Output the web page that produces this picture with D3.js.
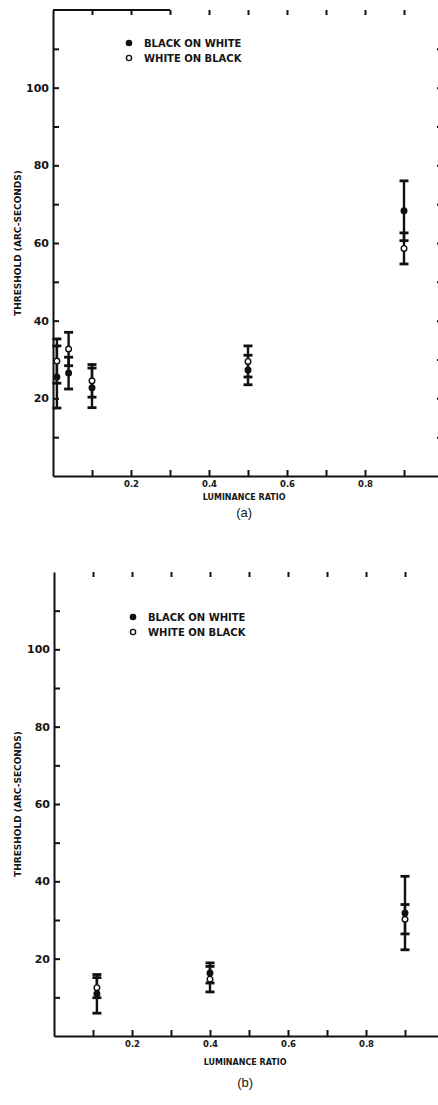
<html lang="en">
<head>
    <title>Threshold vs luminance ratio</title>
    <script src="https://d3js.org/d3.v7.min.js"></script>
    <style>
        body { margin: 0; background: #fff; }
        text { font-family: "DejaVu Sans", "Liberation Sans", Arial, sans-serif; fill: #151515; }
        .caption { font-family: "Liberation Sans", Arial, sans-serif; }
    </style>
</head>
<body>
<div id="chart"></div>
<script>

	// values
	var seriesNames = ["BLACK ON WHITE", "WHITE ON BLACK"];
	var xTickValues = [0.1, 0.2, 0.3, 0.4, 0.5, 0.6, 0.7, 0.8, 0.9];
	var xTickLabels = {0.2: "0.2", 0.4: "0.4", 0.6: "0.6", 0.8: "0.8"};
	var yTickValues = [10, 20, 30, 40, 50, 60, 70, 80, 90, 100, 110];
	var yTickLabels = {20: "20", 40: "40", 60: "60", 80: "80", 100: "100"};

	// panel (a)
	var ratioA     = [0.01, 0.04, 0.1, 0.5, 0.9];
	var blackA     = [25.5, 26.5, 22.7, 27.3, 68.3];
	var blackErrA  = [8.0, 4.1, 5.1, 3.8, 7.7];
	var whiteA     = [29.6, 32.7, 24.5, 29.5, 58.6];
	var whiteErrA  = [5.7, 4.3, 4.2, 4.0, 4.0];

	// panel (b)
	var ratioB     = [0.11, 0.4, 0.9];
	var blackB     = [10.9, 16.3, 31.8];
	var blackErrB  = [5.0, 2.6, 9.5];
	var whiteB     = [12.5, 14.7, 30.2];
	var whiteErrB  = [2.6, 3.3, 3.8];

	var svg = d3.select("#chart")
	  .append("svg")
		.attr("width", 438)
		.attr("height", 1105);

	function drawPanel(p) {
		var g = svg.append("g");

		var x = d3.scaleLinear().domain([0, 1]).range([p.left, p.right]);
		var y = d3.scaleLinear().domain([0, 120]).range([p.bottom, p.top]);

		// left axis, ticks pointing inward
		var left = g.append("g")
			.attr("transform", "translate(" + p.left + ",0)")
			.call(d3.axisLeft(y).tickValues(yTickValues).tickSizeInner(-6).tickSizeOuter(0).tickPadding(4)
				.tickFormat(function(d) { return yTickLabels[d] || ""; }));

		// bottom axis
		var bottom = g.append("g")
			.attr("transform", "translate(0," + p.bottom + ")")
			.call(d3.axisBottom(x).tickValues(xTickValues).tickSizeInner(-6).tickSizeOuter(0).tickPadding(5)
				.tickFormat(function(d) { return xTickLabels[Math.round(d * 10) / 10] || ""; }));

		// top and right ticks, no labels
		var top = g.append("g")
			.attr("transform", "translate(0," + p.top + ")")
			.call(d3.axisTop(x).tickValues(xTickValues).tickSizeInner(-5).tickSizeOuter(0).tickFormat(""));
		top.select(".domain").remove();

		var right = g.append("g")
			.attr("transform", "translate(" + x(1) + ",0)")
			.call(d3.axisRight(y).tickValues(yTickValues).tickSizeInner(-6).tickSizeOuter(0).tickFormat(""));
		right.select(".domain").remove();

		g.selectAll(".domain").attr("stroke", "#111").attr("stroke-width", 2);
		g.selectAll(".tick line").attr("stroke", "#111").attr("stroke-width", 2);

		left.selectAll("text").attr("font-size", 11).attr("font-weight", "bold");
		bottom.selectAll("text").attr("font-size", 8.5).attr("font-weight", "bold");

		// partial top border (only visible on the scan of panel a)
		if (p.topLine) {
			g.append("line")
				.attr("x1", x(0)).attr("x2", x(p.topLine))
				.attr("y1", y(120)).attr("y2", y(120))
				.attr("stroke", "#111").attr("stroke-width", 2);
		}

		// error bars, both series
		var series = [
			{ mean: p.black, err: p.blackErr, fill: "#111" },
			{ mean: p.white, err: p.whiteErr, fill: "#fff" }
		];
		series.forEach(function(s) {
			var bars = g.append("g").selectAll("g")
				.data(p.ratio)
				.enter().append("g");
			bars.append("line")
				.attr("x1", function(d) { return x(d); })
				.attr("x2", function(d) { return x(d); })
				.attr("y1", function(d, i) { return y(s.mean[i] - s.err[i]); })
				.attr("y2", function(d, i) { return y(s.mean[i] + s.err[i]); })
				.attr("stroke", "#111").attr("stroke-width", 2.4);
			[-1, 1].forEach(function(sign) {
				bars.append("line")
					.attr("x1", function(d) { return x(d) - 4.5; })
					.attr("x2", function(d) { return x(d) + 4.5; })
					.attr("y1", function(d, i) { return y(s.mean[i] + sign * s.err[i]); })
					.attr("y2", function(d, i) { return y(s.mean[i] + sign * s.err[i]); })
					.attr("stroke", "#111").attr("stroke-width", 2.8);
			});
		});

		// markers
		series.forEach(function(s) {
			g.append("g").selectAll("circle")
				.data(p.ratio)
				.enter().append("circle")
				.attr("cx", function(d) { return x(d); })
				.attr("cy", function(d, i) { return y(s.mean[i]); })
				.attr("r", 2.8)
				.attr("fill", s.fill)
				.attr("stroke", "#111").attr("stroke-width", 1.4);
		});

		// legend
		var legend = g.append("g");
		seriesNames.forEach(function(name, i) {
			legend.append("circle")
				.attr("cx", p.legendX).attr("cy", p.legendY + i * 15)
				.attr("r", 2.6)
				.attr("fill", series[i].fill)
				.attr("stroke", "#111").attr("stroke-width", 1.4);
			legend.append("text")
				.attr("x", p.legendX + 15).attr("y", p.legendY + i * 15)
				.attr("dy", "0.35em")
				.attr("font-size", 10)
				.attr("font-weight", "bold")
				.text(name);
		});

		// axis titles
		g.append("text")
			.attr("text-anchor", "middle")
			.attr("transform", "translate(18," + y(60) + ") rotate(-90)")
			.attr("dy", "0.35em")
			.attr("font-size", 9)
			.attr("font-weight", "bold")
			.text("THRESHOLD (ARC-SECONDS)");

		g.append("text")
			.attr("text-anchor", "middle")
			.attr("x", x(0.49))
			.attr("y", p.bottom + p.titleGap)
			.attr("font-size", 8)
			.attr("font-weight", "bold")
			.text("LUMINANCE RATIO");

		g.append("text")
			.attr("class", "caption")
			.attr("text-anchor", "middle")
			.attr("x", x(0.49))
			.attr("y", p.bottom + p.captionGap)
			.attr("font-size", 13)
			.text(p.caption);
	}

	drawPanel({
		left: 53, right: 443, top: 10, bottom: 476,
		ratio: ratioA, black: blackA, blackErr: blackErrA, white: whiteA, whiteErr: whiteErrA,
		legendX: 129, legendY: 43, topLine: 0.3,
		titleGap: 24, captionGap: 41, caption: "(a)"
	});

	drawPanel({
		left: 54, right: 444, top: 572, bottom: 1036,
		ratio: ratioB, black: blackB, blackErr: blackErrB, white: whiteB, whiteErr: whiteErrB,
		legendX: 133, legendY: 617, topLine: 0,
		titleGap: 29, captionGap: 51, caption: "(b)"
	});

</script>
</body>
</html>
